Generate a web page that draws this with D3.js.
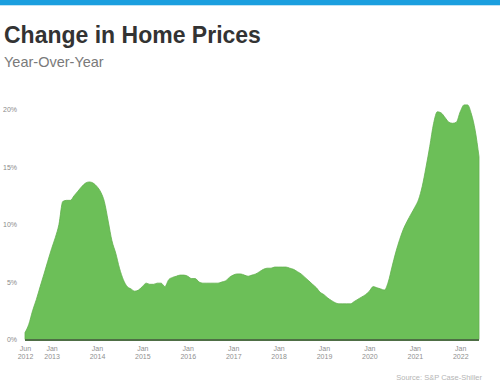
<!DOCTYPE html>
<html>
<head>
<meta charset="utf-8">
<script src="https://cdn.jsdelivr.net/npm/d3@7"></script>
<style>
  html, body { margin: 0; padding: 0; background: #fff; }
  svg { display: block; font-family: "Liberation Sans", Arial, Helvetica, sans-serif; }
</style>
</head>
<body>
<svg id="chart" width="500" height="383"></svg>
<script>
// ---- Data (monthly YoY % change, Jun 2012 – Jun 2022) ----
const startMonth = "2012-06";
const yoyValues = [
  0.6, 1.3, 2.5, 3.5, 4.6, 5.7, 6.8, 7.9, 8.9, 10.0, 12.0, 12.1,
  12.1, 12.5, 12.9, 13.3, 13.6, 13.7, 13.6, 13.3, 12.8, 12.0, 10.3, 8.6,
  7.5, 6.2, 5.2, 4.6, 4.4, 4.2, 4.3, 4.6, 4.9, 4.8, 4.8, 4.9,
  4.9, 4.6, 5.2, 5.4, 5.5, 5.6, 5.6, 5.5, 5.3, 5.3, 5.0, 4.9,
  4.9, 4.9, 4.9, 4.9, 5.0, 5.1, 5.4, 5.6, 5.7, 5.7, 5.6, 5.5,
  5.6, 5.7, 5.9, 6.1, 6.2, 6.2, 6.3, 6.3, 6.3, 6.3, 6.2, 6.1,
  5.9, 5.7, 5.4, 5.1, 4.8, 4.5, 4.1, 3.9, 3.6, 3.4, 3.2, 3.1,
  3.1, 3.1, 3.1, 3.3, 3.5, 3.7, 3.9, 4.2, 4.6, 4.5, 4.4, 4.3,
  5.0, 6.3, 7.6, 8.7, 9.6, 10.3, 10.9, 11.5, 12.2, 13.3, 15.0, 16.8,
  18.8, 19.8, 19.7, 19.3, 18.9, 18.8, 18.9, 19.8, 20.4, 20.4, 19.6, 18.2,
  15.9
];
const xTickDates = ["2012-06", "2013-01", "2014-01", "2015-01", "2016-01", "2017-01",
                    "2018-01", "2019-01", "2020-01", "2021-01", "2022-01"];
const xTickMonths = ["Jun", "Jan", "Jan", "Jan", "Jan", "Jan", "Jan", "Jan", "Jan", "Jan", "Jan"];
const xTickYears = ["2012", "2013", "2014", "2015", "2016", "2017", "2018", "2019", "2020", "2021", "2022"];
const yTicks = [0, 5, 10, 15, 20];
const titleText = "Change in Home Prices";
const subtitleText = "Year-Over-Year";
const sourceText = "Source: S&P Case-Shiller";

// ---- Build ----
const parseMonth = d3.timeParse("%Y-%m");
const start = parseMonth(startMonth);
const data = yoyValues.map((v, i) => ({ date: d3.timeMonth.offset(start, i), value: v }));

const svg = d3.select("#chart");
const W = 500, H = 383;

// top blue bar
svg.append("rect").attr("x", 0).attr("y", 0).attr("width", W).attr("height", 5).attr("fill", "#1b9fdf");
svg.append("rect").attr("x", 0).attr("y", 5).attr("width", W).attr("height", 1).attr("fill", "#bfe3f5");

// titles
svg.append("text").attr("x", 4).attr("y", 43)
  .attr("font-size", 23).attr("font-weight", "bold").attr("fill", "#333")
  .text(titleText);
svg.append("text").attr("x", 4).attr("y", 67)
  .attr("font-size", 14.5).attr("fill", "#7a7a7a")
  .text(subtitleText);

const x = d3.scaleTime()
  .domain([data[0].date, data[data.length - 1].date])
  .range([25, 479]);
const y = d3.scaleLinear().domain([0, 20]).range([339.5, 109.5]);

// area
const area = d3.area()
  .x(d => x(d.date))
  .y0(y(0))
  .y1(d => y(d.value))
  .curve(d3.curveMonotoneX);

svg.append("path")
  .datum(data)
  .attr("d", area)
  .attr("fill", "#6cbf58")
  .attr("stroke", "#62b04e")
  .attr("stroke-width", 0.8);

// baseline
svg.append("line")
  .attr("x1", x(data[0].date)).attr("x2", x(data[data.length - 1].date))
  .attr("y1", 340).attr("y2", 340)
  .attr("stroke", "#4e6e45").attr("stroke-width", 2);

// y axis (labels only)
const yAxis = d3.axisLeft(y).tickValues(yTicks).tickSize(0).tickPadding(0)
  .tickFormat(d => d + "%");
const gy = svg.append("g").attr("transform", "translate(17,0)").call(yAxis);
gy.select(".domain").remove();
gy.selectAll("text").attr("font-size", 7).attr("fill", "#8a8a8a")
  .attr("font-family", "'Liberation Sans', Arial, sans-serif");

// x axis (two-line labels)
const tickDates = xTickDates.map(parseMonth);
const xAxis = d3.axisBottom(x).tickValues(tickDates).tickSize(0).tickFormat("");
const gx = svg.append("g").attr("transform", "translate(0,341)").call(xAxis);
gx.select(".domain").remove();
gx.selectAll(".tick").each(function (d, i) {
  const t = d3.select(this).select("text")
    .attr("font-size", 7).attr("fill", "#8f8f8f").attr("y", 0).attr("dy", 0)
    .attr("font-family", "'Liberation Sans', Arial, sans-serif");
  t.append("tspan").attr("x", 0).attr("y", 10).text(xTickMonths[i]);
  t.append("tspan").attr("x", 0).attr("y", 18).text(xTickYears[i]);
});

// source
svg.append("text").attr("x", 482).attr("y", 380)
  .attr("text-anchor", "end").attr("font-size", 7.5).attr("fill", "#b5b5b5")
  .text(sourceText);
</script>
</body>
</html>
